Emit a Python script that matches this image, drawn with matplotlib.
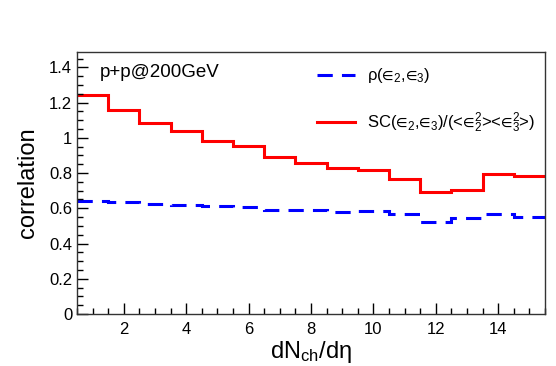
import matplotlib
matplotlib.use("Agg")
import matplotlib.pyplot as plt
import numpy as np
from matplotlib.ticker import MultipleLocator, FixedLocator

plt.rcParams['font.family'] = ['Liberation Sans', 'DejaVu Sans']
plt.rcParams['mathtext.fontset'] = 'custom'
plt.rcParams['mathtext.rm'] = 'Liberation Sans'
plt.rcParams['mathtext.it'] = 'Liberation Sans'
plt.rcParams['mathtext.fallback'] = 'stixsans'

bin_edges = np.arange(0.5, 16.0, 1.0)
sc_ratio = [1.245, 1.160, 1.086, 1.037, 0.980, 0.951, 0.891, 0.857, 0.830, 0.815,
            0.765, 0.692, 0.701, 0.796, 0.781]
rho = [0.642, 0.634, 0.626, 0.619, 0.611, 0.607, 0.593, 0.589, 0.581, 0.584,
       0.569, 0.523, 0.544, 0.566, 0.548]
x_ticks = [2, 4, 6, 8, 10, 12, 14]
y_ticks = [0, 0.2, 0.4, 0.6, 0.8, 1.0, 1.2, 1.4]
y_ticklabels = ['0', '0.2', '0.4', '0.6', '0.8', '1', '1.2', '1.4']

fig = plt.figure(figsize=(5.56, 3.66), dpi=100)
ax = fig.add_axes([77/556, 1-314/366, (545-77)/556, (314-52)/366])

E = '∈'
ax.stairs(rho, bin_edges, color='#0000ff', lw=2.2, linestyle=(0, (5, 3)),
          label=r'ρ($%s_2$,$%s_3$)' % (E, E), baseline=None)
ax.stairs(sc_ratio, bin_edges, color='#ff0000', lw=2.2,
          label=r'SC($%s_2$,$%s_3$)/(<$%s^2_2$><$%s^2_3$>)' % (E, E, E, E), baseline=None)

ax.set_xlim(0.5, 15.5)
ax.set_ylim(0, 1.487)
ax.xaxis.set_major_locator(FixedLocator(x_ticks))
ax.xaxis.set_minor_locator(MultipleLocator(0.5))
ax.yaxis.set_major_locator(FixedLocator(y_ticks))
ax.set_yticklabels(y_ticklabels)
ax.yaxis.set_minor_locator(MultipleLocator(0.05))
ax.tick_params(which='both', direction='in', top=False, right=False, labelsize=12)
ax.tick_params(which='major', length=8, width=1)
ax.tick_params(which='minor', length=4, width=1)
ax.tick_params(axis='x', pad=6)
for s in ax.spines.values():
    s.set_linewidth(1.0)
    s.set_color('#333333')

ax.set_xlabel(r'dN$_{\rm ch}$/dη', fontsize=17, labelpad=1)
ax.set_ylabel('correlation', fontsize=17, labelpad=7)

ax.text(0.048, 0.92, 'p+p@200GeV', transform=ax.transAxes, fontsize=13.5, va='center')

leg = ax.legend(loc='upper left', bbox_to_anchor=(0.513, 0.945), frameon=False,
                fontsize=12, handlelength=2.3, handletextpad=0.7,
                labelspacing=1.5, borderaxespad=0, borderpad=0)

fig.savefig('out.png', dpi=100)
